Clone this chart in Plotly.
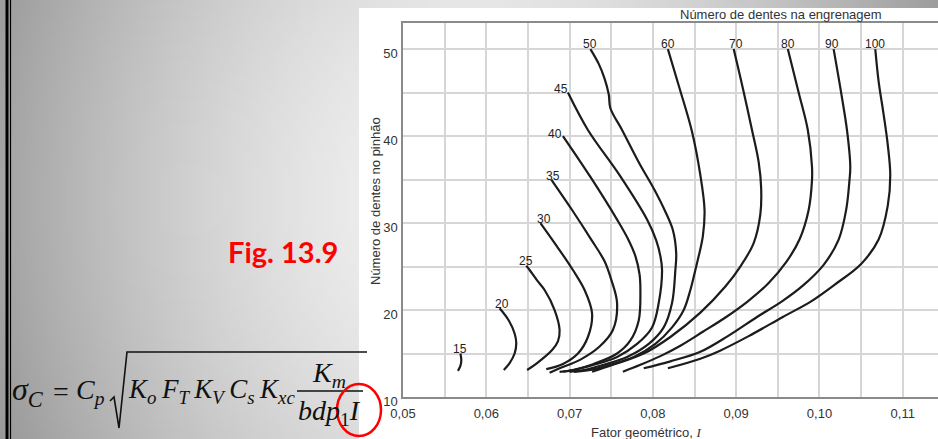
import base64, struct, zlib
import plotly.graph_objects as go

# ---------------- data ----------------
gear_teeth = [15, 20, 25, 30, 35, 40, 45, 50, 60, 70, 80, 90, 100]

I_15 = [0.0569, 0.0570, 0.0569, 0.0566]
N_15 = [15.0, 14.2, 13.6, 13.0]
I_20 = [0.0616, 0.0627, 0.0634, 0.0636, 0.0634, 0.0628, 0.0621]
N_20 = [20.2, 18.8, 17.3, 16.2, 15.0, 13.9, 13.1]
I_25 = [0.0648, 0.0652, 0.0661, 0.0670, 0.0682, 0.0688, 0.0686, 0.0679, 0.0661, 0.0649]
N_25 = [25.1, 24.6, 23.4, 22.3, 20.0, 17.7, 16.4, 15.4, 13.9, 13.1]
I_30 = [0.0665, 0.0685, 0.0704, 0.0718, 0.0727, 0.0722, 0.0710, 0.0692, 0.0672]
N_30 = [30.0, 27.3, 24.6, 22.3, 19.6, 16.9, 15.0, 13.8, 13.2]
I_35 = [0.0678, 0.0703, 0.0726, 0.0742, 0.0750, 0.0757, 0.0752, 0.0736, 0.0713, 0.0688, 0.0676]
N_35 = [35.0, 31.5, 28.1, 25.6, 23.5, 20.8, 17.7, 15.8, 14.3, 13.3, 12.8]
I_40 = [0.0692, 0.0725, 0.0757, 0.0770, 0.0779, 0.0784, 0.0785, 0.0783, 0.0773, 0.0757, 0.0729, 0.0704, 0.0688]
N_40 = [40.0, 35.3, 30.4, 28.2, 26.2, 24.1, 22.3, 18.8, 16.5, 15.0, 13.8, 13.1, 12.9]
I_45 = [0.0698, 0.0722, 0.0760, 0.0793, 0.0804, 0.0809, 0.0811, 0.0807, 0.0799, 0.0781, 0.0757, 0.0729, 0.0705, 0.0692]
N_45 = [45.0, 40.7, 35.5, 30.4, 28.0, 26.2, 24.6, 20.8, 18.0, 16.1, 14.6, 13.7, 13.1, 12.9]
I_50 = [0.0725, 0.0735, 0.0742, 0.0747, 0.0749, 0.0763, 0.0783, 0.0802, 0.0815, 0.0824, 0.0828,
        0.0827, 0.0823, 0.0813, 0.0795, 0.0769, 0.0741, 0.0717, 0.0700]
N_50 = [50.0, 48.3, 46.6, 44.8, 43.2, 40.7, 37.0, 33.8, 31.3, 29.2, 26.5,
        24.6, 20.8, 18.0, 16.1, 14.6, 13.7, 13.1, 12.9]
I_60 = [0.0818, 0.0832, 0.0847, 0.0857, 0.0862, 0.0860, 0.0855, 0.0851, 0.0845, 0.0837, 0.0823,
        0.0803, 0.0777, 0.0749, 0.0725, 0.0705]
N_60 = [50.0, 45.5, 40.5, 35.5, 31.5, 28.5, 26.2, 24.6, 22.3, 20.0, 18.0,
        16.1, 14.6, 13.7, 13.1, 12.9]
I_70 = [0.0897, 0.0908, 0.0919, 0.0927, 0.0930, 0.0929, 0.0921, 0.0905, 0.0887, 0.0857, 0.0821,
        0.0789, 0.0752, 0.0727]
N_70 = [50.0, 45.5, 40.7, 37.0, 34.0, 31.0, 27.7, 25.0, 22.7, 19.7, 16.9, 15.0, 13.7, 12.9]
I_80 = [0.0962, 0.0975, 0.0986, 0.0991, 0.0991, 0.0987, 0.0976, 0.0960, 0.0939, 0.0914, 0.0888,
        0.0860, 0.0833, 0.0809, 0.0785, 0.0764]
N_80 = [50.0, 45.0, 40.7, 36.5, 34.9, 31.5, 28.1, 25.5, 23.1, 21.0, 19.2, 17.5, 15.9, 14.7, 13.7, 12.9]
I_90 = [0.1017, 0.1026, 0.1033, 0.1037, 0.1036, 0.1032, 0.1023, 0.1005, 0.0980, 0.0955, 0.0925,
        0.0890, 0.0857, 0.0821, 0.0789]
N_90 = [50.0, 45.0, 40.7, 36.5, 34.9, 31.5, 28.1, 25.2, 22.8, 21.0, 19.2, 17.0, 15.2, 14.1, 13.3]
I_100 = [0.1067, 0.1071, 0.1077, 0.1082, 0.1085, 0.1082, 0.1071, 0.1050, 0.1018, 0.0990, 0.0956,
         0.0915, 0.0880, 0.0857, 0.0818]
N_100 = [50.0, 46.3, 42.5, 39.0, 35.5, 32.0, 28.1, 25.3, 22.9, 21.0, 19.2, 17.0, 15.3, 14.4, 13.3]

x_tick_vals = [0.05, 0.06, 0.07, 0.08, 0.09, 0.10, 0.11]
x_tick_text = ["0,05", "0,06", "0,07", "0,08", "0,09", "0,10", "0,11"]
y_tick_vals = [10, 20, 30, 40, 50]
y_tick_text = ["10", "20", "30", "40", "50"]

x_title = "Fator geométrico, <i><span style='font-family:Liberation Serif'>I</span></i>"
y_title = "Número de dentes no pinhão"
top_title = "Número de dentes na engrenagem"
fig_label = "Fig. 13.9"

curves_I = [I_15, I_20, I_25, I_30, I_35, I_40, I_45, I_50, I_60, I_70, I_80, I_90, I_100]
curves_N = [N_15, N_20, N_25, N_30, N_35, N_40, N_45, N_50, N_60, N_70, N_80, N_90, N_100]

# label offsets in pixels (style)
label_shift = {15: (0, 5), 20: (2, 4), 25: (0, 5), 30: (4, 4), 35: (2, 4), 40: (-8, 2),
               45: (-7, 4), 50: (0, 5), 60: (0, 5), 70: (2, 5), 80: (0, 5), 90: (-2, 5), 100: (0, 5)}

W, H = 938, 439
def X(px):
    return px / W
def Y(py):
    return 1 - py / H

# ---------------- background gradient image ----------------
def make_png(w, h, rows):
    def chunk(t, d):
        return struct.pack('>I', len(d)) + t + d + struct.pack('>I', zlib.crc32(t + d) & 0xffffffff)
    raw = b''.join(b'\x00' + bytes(r) for r in rows)
    return (b'\x89PNG\r\n\x1a\n' + chunk(b'IHDR', struct.pack('>IIBBBBB', w, h, 8, 0, 0, 0, 0))
            + chunk(b'IDAT', zlib.compress(raw)) + chunk(b'IEND', b''))

gw, gh = 188, 88
rows = []
for j in range(gh):
    row = []
    for i in range(gw):
        px = (i + 0.5) * W / gw
        py = (j + 0.5) * H / gh
        d = ((px - 470) ** 2 + ((py - 200) * 0.8) ** 2) ** 0.5
        t = min(d / 490.0, 1.1)
        v = 244 - 86 * t ** 1.6
        row.append(max(0, min(255, int(v))))
    rows.append(row)
grad_src = "data:image/png;base64," + base64.b64encode(make_png(gw, gh, rows)).decode()

# ---------------- figure ----------------
fig = go.Figure()
for g, xs, ys in zip(gear_teeth, curves_I, curves_N):
    fig.add_trace(go.Scatter(x=xs, y=ys, mode="lines", line=dict(color="#1c1c1c", width=2.2, shape="spline", smoothing=1.0),
                             hoverinfo="skip", showlegend=False))

annotations = []
lab_font = dict(family="Liberation Sans, Arial", size=12, color="#222222")
for g, xs, ys in zip(gear_teeth, curves_I, curves_N):
    dx, dy = label_shift[g]
    annotations.append(dict(x=xs[0], y=ys[0], xref="x", yref="y", text=str(g), showarrow=False,
                            xanchor="center", yanchor="middle", xshift=dx, yshift=dy, font=lab_font))

txt_font = dict(family="Liberation Sans, Arial", size=13, color="#333333")
annotations += [
    dict(x=X(781), y=Y(15), xref="paper", yref="paper", text=top_title, showarrow=False,
         xanchor="center", yanchor="middle", font=txt_font),
    dict(x=X(646), y=Y(432), xref="paper", yref="paper", text=x_title, showarrow=False,
         xanchor="center", yanchor="middle", font=txt_font),
    dict(x=X(375), y=Y(201), xref="paper", yref="paper", text=y_title, showarrow=False, textangle=-90,
         xanchor="center", yanchor="middle", font=txt_font),
    dict(x=X(283), y=Y(251), xref="paper", yref="paper", text="<b>" + fig_label + "</b>", showarrow=False,
         xanchor="center", yanchor="middle", font=dict(family="Lato, Open Sans", size=29, color="#ff0000")),
]

serif = "Liberation Serif, Times New Roman"
ts = "\u2009"
formula_parts = [
    ("<i>σ</i><sub><i>C</i></sub>", 10, 391, 32),
    ("=", 51, 391, 28),
    ("<i>C</i><sub><i>p</i></sub>", 74, 391, 28),
    ("<i>K</i><sub><i>o</i></sub>" + ts + "<i>F</i><sub><i>T</i></sub>" + ts + "<i>K</i><sub><i>V</i></sub>" + ts
     + "<i>C</i><sub><i>s</i></sub>" + ts + "<i>K</i><sub><i>xc</i></sub>", 126, 391, 27),
    ("<i>K</i><sub><i>m</i></sub>", 310, 374, 28),
    ("<i>bdp</i><sub>1</sub><i>I</i>", 296, 412, 28),
]
for txt, px, py, sz in formula_parts:
    annotations.append(dict(x=X(px), y=Y(py), xref="paper", yref="paper", text=txt, showarrow=False,
                            xanchor="left", yanchor="middle", font=dict(family=serif, size=sz, color="#111111")))

def P(px, py):
    return f"{X(px):.5f},{Y(py):.5f}"

shapes = [
    dict(type="rect", xref="paper", yref="paper", x0=X(359), x1=1.01, y0=-0.01, y1=Y(8),
         fillcolor="white", line=dict(width=0), layer="below"),
    dict(type="line", xref="paper", yref="paper", x0=X(7), x1=X(7), y0=0, y1=1,
         line=dict(color="black", width=3)),
    dict(type="line", xref="paper", yref="paper", x0=X(10.5), x1=X(10.5), y0=0, y1=1,
         line=dict(color="black", width=1.2)),
    dict(type="path", xref="paper", yref="paper",
         path=f"M {P(110, 401)} L {P(114, 397)} L {P(119, 428)} L {P(127, 352)} L {P(367, 352)}",
         line=dict(color="#111111", width=1.6)),
    dict(type="line", xref="paper", yref="paper", x0=X(297), x1=X(363), y0=Y(391), y1=Y(391),
         line=dict(color="#111111", width=1.5)),
    dict(type="circle", xref="paper", yref="paper", x0=X(337), x1=X(381), y0=Y(436), y1=Y(384),
         line=dict(color="#ff0000", width=2.5)),
]

grid_c = "#d6d6d6"
fig.update_layout(
    width=W, height=H, autosize=False,
    margin=dict(l=0, r=0, t=0, b=0, pad=0, autoexpand=False),
    paper_bgcolor="#b0b0b0", plot_bgcolor="rgba(0,0,0,0)",
    showlegend=False,
    images=[dict(source=grad_src, xref="paper", yref="paper", x=0, y=1, sizex=1, sizey=1,
                 sizing="stretch", xanchor="left", yanchor="top", layer="below")],
    shapes=shapes, annotations=annotations,
    xaxis=dict(domain=[X(403), 1.0], range=[0.05, 0.11423], tickvals=x_tick_vals, ticktext=x_tick_text,
               showgrid=True, gridcolor=grid_c, gridwidth=1.5, automargin=False,
               minor=dict(dtick=0.005, tick0=0.05, showgrid=True, gridcolor=grid_c, gridwidth=1.5),
               showline=True, linecolor="#8a8a8a", linewidth=1.5, mirror=True, ticks="",
               zeroline=False, tickfont=txt_font, ticklabelstandoff=4, fixedrange=True),
    yaxis=dict(domain=[Y(397), Y(23)], range=[10, 53], tickvals=y_tick_vals, ticktext=y_tick_text,
               showgrid=True, gridcolor=grid_c, gridwidth=1.5, automargin=False,
               minor=dict(dtick=5, tick0=10, showgrid=True, gridcolor=grid_c, gridwidth=1.5),
               showline=True, linecolor="#8a8a8a", linewidth=1.5, mirror=False, ticks="",
               zeroline=False, tickfont=txt_font, ticklabelshift=4, ticklabelstandoff=1, fixedrange=True),
)

fig.write_html("out.html", config={"displayModeBar": False},
               post_script="document.body.style.margin='0';document.body.style.overflow='hidden';")
